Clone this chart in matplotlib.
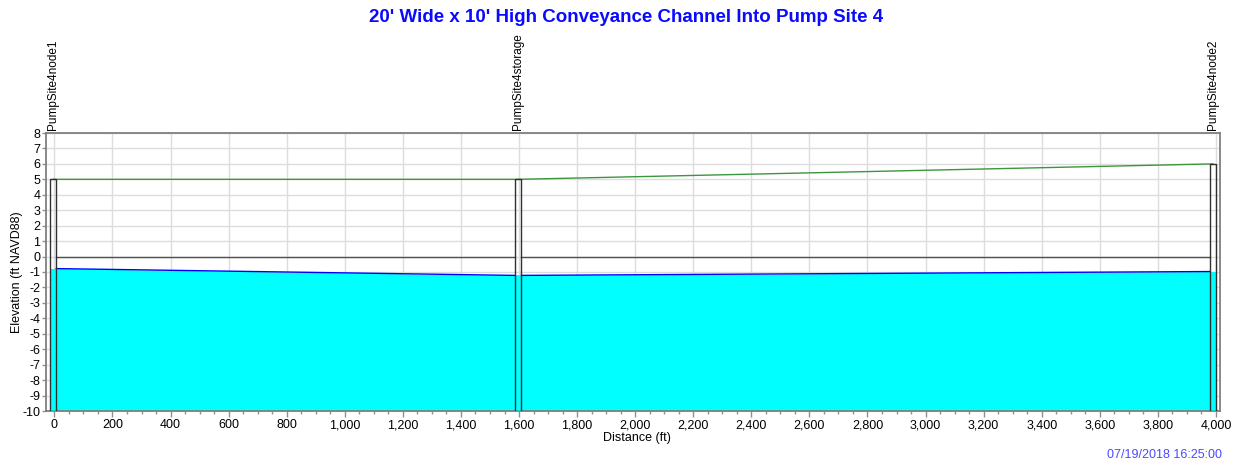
# SWMM-style profile plot: channel into Pump Site 4 (water level, ground, node boxes)
import numpy as np
import matplotlib
matplotlib.use("Agg")
import matplotlib.pyplot as plt
from matplotlib.patches import Rectangle
from matplotlib.ticker import MultipleLocator, FuncFormatter

plt.rcParams["font.family"] = ["Liberation Sans", "DejaVu Sans"]
plt.rcParams["axes.unicode_minus"] = False

# profile data (ft)
node_names = ["PumpSite4node1", "PumpSite4storage", "PumpSite4node2"]
node_station = [-4, 1596, 3990]
node_invert = [-10, -10, -10]
node_ground = [5.0, 5.0, 6.0]
node_water = [-0.78, -1.22, -0.97]
crown = [0, 0, 0]
NODE_W = 20

fig = plt.figure(figsize=(12.41, 4.68), dpi=100)
ax = fig.add_axes([46 / 1241, 1 - 411 / 468, 1174 / 1241, 278 / 468])
ax.set_xlim(-29, 4014)
ax.set_ylim(-10, 8)

# water fill + lines between node faces
for i in range(len(node_station) - 1):
    x0 = node_station[i] + NODE_W / 2
    x1 = node_station[i + 1] - NODE_W / 2
    xs = [x0, x1]
    ws = [node_water[i], node_water[i + 1]]
    ax.fill_between(xs, node_invert[i:i + 2], ws, color="#00ffff", lw=0, zorder=2)
    ax.plot(xs, ws, color="#0000ff", lw=1, zorder=3)
    ax.plot(xs, crown[i:i + 2], color="#505050", lw=1, zorder=3)

# ground line
ax.plot(node_station, node_ground, color="#3c963c", lw=1, zorder=3)

# node boxes
for xs, inv, top, wl in zip(node_station, node_invert, node_ground, node_water):
    ax.add_patch(Rectangle((xs - NODE_W / 2, inv), NODE_W, wl - inv,
                           facecolor="#00ffff", edgecolor="none", zorder=4))
    ax.add_patch(Rectangle((xs - NODE_W / 2, inv), NODE_W, top - inv,
                           facecolor="none", edgecolor="#303030", lw=1, zorder=5))

for name, xs in zip(node_names, node_station):
    ax.text(xs, 8.2, name, rotation=90, ha="center", va="bottom",
            fontsize=8.5, clip_on=False)

ax.xaxis.set_major_locator(MultipleLocator(200))
ax.xaxis.set_minor_locator(MultipleLocator(50))
ax.yaxis.set_major_locator(MultipleLocator(1))
ax.xaxis.set_major_formatter(FuncFormatter(lambda v, p: f"{v:,.0f}"))
ax.yaxis.set_major_formatter(FuncFormatter(lambda v, p: f"{v:.0f}"))
ax.tick_params(axis="x", which="major", length=4, width=1, color="#909090",
               labelsize=9, pad=2)
ax.tick_params(axis="x", which="minor", length=2.5, width=1, color="#909090")
ax.tick_params(axis="y", length=3, width=1, color="#909090", labelsize=9, pad=1)
ax.grid(True, which="major", color="#dcdcdc", lw=1, zorder=0)
ax.set_axisbelow(True)
for s in ax.spines.values():
    s.set_color("#808080")
    s.set_linewidth(1.3)

fig.text(626 / 1241, 1 - 18 / 468, "20' Wide x 10' High Conveyance Channel Into Pump Site 4",
         ha="center", va="center", fontsize=13.5, weight="bold", color="#0a0aff")
fig.text(17 / 1241, 1 - 272 / 468, "Elevation (ft NAVD88)", rotation=90,
         ha="center", va="center", fontsize=9)
fig.text(637 / 1241, 1 - 438 / 468, "Distance (ft)", ha="center", va="center", fontsize=9)
fig.text(1222 / 1241, 1 - 455 / 468, "07/19/2018 16:25:00", ha="right", va="center",
         fontsize=9, color="#4a4aff")

fig.savefig("out.png", dpi=100)
